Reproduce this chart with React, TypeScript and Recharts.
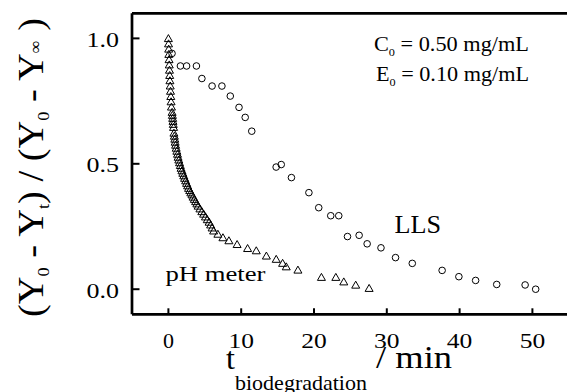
import React from "react";
import { ScatterChart, Scatter, XAxis, YAxis, ReferenceLine } from "recharts";

// pH meter (triangles): time in min, normalized signal
const phTime = [
  0, 0.02, 0.04, 0.06, 0.09, 0.12, 0.15, 0.18, 0.21, 0.25, 0.29, 0.33, 0.37, 0.42,
  0.51, 0.55, 0.59, 0.63, 0.67, 0.71, 0.76, 0.82, 0.88, 0.93, 0.99, 1.07, 1.16, 1.25,
  1.33, 1.43, 1.53, 1.64, 1.74, 1.86, 1.98, 2.11, 2.23, 2.37, 2.5, 2.64, 2.77, 2.93,
  3.08, 3.24, 3.39, 3.56, 3.74, 3.91, 4.08, 4.33, 4.59, 4.84, 5.09, 5.34, 5.59, 5.8,
  6.0, 6.21, 6.8, 7.49, 8.31, 9.44, 10.88, 12.07, 13.46, 14.81, 15.69, 16.19, 17.79,
  21.02, 23.0, 24.09, 25.73, 27.57,
];
const phValue = [
  1.0, 0.979, 0.958, 0.937, 0.916, 0.895, 0.874, 0.853, 0.832, 0.811, 0.79, 0.769, 0.748, 0.727,
  0.706, 0.694, 0.682, 0.67, 0.658, 0.646, 0.623, 0.611, 0.599, 0.587, 0.575, 0.563, 0.551, 0.539,
  0.527, 0.516, 0.505, 0.494, 0.483, 0.473, 0.463, 0.453, 0.443, 0.433, 0.423, 0.413, 0.403, 0.394,
  0.385, 0.377, 0.368, 0.359, 0.35, 0.341, 0.332, 0.321, 0.31, 0.3, 0.289, 0.278, 0.268, 0.257,
  0.245, 0.233, 0.22, 0.206, 0.194, 0.179, 0.163, 0.154, 0.133, 0.12, 0.104, 0.09, 0.077,
  0.048, 0.048, 0.03, 0.017, 0.004,
];

// LLS (circles)
const llsTime = [
  0.5, 1.65, 2.5, 3.85, 4.6, 6.0, 7.35, 8.5, 9.7, 10.55, 11.45, 14.8, 15.5, 16.9, 19.3,
  20.65, 22.3, 23.4, 24.6, 26.2, 27.3, 29.2, 31.2, 33.5, 37.6, 39.9, 42.2, 45.1, 49.0, 50.45,
];
const llsValue = [
  0.94, 0.89, 0.89, 0.89, 0.84, 0.81, 0.81, 0.77, 0.725, 0.685, 0.63, 0.487, 0.497, 0.445, 0.385,
  0.325, 0.293, 0.293, 0.21, 0.215, 0.181, 0.165, 0.126, 0.103, 0.075, 0.05, 0.035, 0.019, 0.017, 0.0,
];

const xTicks = [0, 10, 20, 30, 40, 50];
const yTicks = [0, 0.5, 1.0];

const phData = phTime.map((t, i) => ({ t, y: phValue[i] }));
const llsData = llsTime.map((t, i) => ({ t, y: llsValue[i] }));

const serif = { fontFamily: "Liberation Serif" };

const Triangle = (props: any) => {
  const { cx, cy } = props;
  return (
    <polygon
      points={`${cx},${cy - 3.8} ${cx + 4},${cy + 3.2} ${cx - 4},${cy + 3.2}`}
      fill="none"
      stroke="#000"
      strokeWidth={1}
    />
  );
};

const Circle = (props: any) => {
  const { cx, cy } = props;
  return <circle cx={cx} cy={cy} r={3.3} fill="none" stroke="#000" strokeWidth={1} />;
};

const YTick = ({ x, y, payload }: any) => (
  <g>
    <line x1={x} x2={x + 7.5} y1={y} y2={y} stroke="#000" strokeWidth={2} />
    <text
      x={x - 13}
      y={y + 8.4}
      textAnchor="end"
      fontSize={22}
      style={serif}
      fill="#000"
      textLength={32.5}
      lengthAdjust="spacingAndGlyphs"
    >
      {payload.value.toFixed(1)}
    </text>
  </g>
);

const XTick = ({ x, y, payload }: any) => {
  const label = String(payload.value);
  return (
    <g>
      <line x1={x} x2={x} y1={y} y2={y - 6} stroke="#000" strokeWidth={2} />
      <text
        x={x}
        y={y + 34}
        textAnchor="middle"
        fontSize={22}
        style={serif}
        fill="#000"
        textLength={label.length > 1 ? 25.5 : 11}
        lengthAdjust="spacingAndGlyphs"
      >
        {label}
      </text>
    </g>
  );
};

export default function App() {
  return (
    <div
      style={{
        position: "absolute",
        left: 0,
        top: 0,
        width: 567,
        height: 392,
        overflow: "hidden",
        background: "#fff",
      }}
    >
      <ScatterChart
        width={580}
        height={392}
        margin={{ top: 13.3, right: 11.2, bottom: 0, left: 0 }}
      >
        <XAxis
          dataKey="t"
          type="number"
          domain={[-5, 55]}
          ticks={xTicks}
          height={77.7}
          tickSize={0}
          tickMargin={0}
          tickLine={false}
          tick={<XTick />}
          axisLine={{ stroke: "#000", strokeWidth: 2.7 }}
          allowDataOverflow
        />
        <YAxis
          dataKey="y"
          type="number"
          domain={[-0.1, 1.1]}
          ticks={yTicks}
          width={132}
          tickSize={0}
          tickMargin={0}
          tickLine={false}
          tick={<YTick />}
          axisLine={{ stroke: "#000", strokeWidth: 2.7 }}
          allowDataOverflow
        />
        <ReferenceLine y={1.1} stroke="#000" strokeWidth={2.7} />
        <Scatter data={llsData} shape={<Circle />} isAnimationActive={false} />
        <Scatter data={phData} shape={<Triangle />} isAnimationActive={false} />
      </ScatterChart>
      <svg
        width={567}
        height={392}
        style={{ position: "absolute", left: 0, top: 0, pointerEvents: "none", ...serif }}
        fill="#000"
      >
        <text
          transform="translate(43,167.5) rotate(-90)"
          textAnchor="middle"
          fontSize={36}
          style={serif}
          textLength={299}
          lengthAdjust="spacingAndGlyphs"
        >
          (Y<tspan fontSize={17} dy={6}>0</tspan>
          <tspan dy={-6}> - Y</tspan>
          <tspan fontSize={17} dy={6}>t</tspan>
          <tspan dy={-6}>) / (Y</tspan>
          <tspan fontSize={17} dy={6}>0</tspan>
          <tspan dy={-6}> - Y</tspan>
          <tspan fontSize={17} dy={-2}>∞</tspan>
          <tspan dy={2}> )</tspan>
        </text>

        <text x={226} y={369} fontSize={32} style={serif}>t</text>
        <text x={235} y={390} fontSize={22} style={serif} textLength={132} lengthAdjust="spacingAndGlyphs">
          biodegradation
        </text>
        <text x={376} y={368} fontSize={32} style={serif} textLength={76} lengthAdjust="spacingAndGlyphs">
          / min
        </text>

        <text x={374} y={51} fontSize={20} style={serif} textLength={155} lengthAdjust="spacingAndGlyphs">
          C<tspan fontSize={11} dy={5}>0</tspan>
          <tspan dy={-5}> = 0.50 mg/mL</tspan>
        </text>
        <text x={376} y={81} fontSize={20} style={serif} textLength={153} lengthAdjust="spacingAndGlyphs">
          E<tspan fontSize={11} dy={5}>0</tspan>
          <tspan dy={-5}> = 0.10 mg/mL</tspan>
        </text>

        <text x={394.5} y={232.5} fontSize={25} style={serif} textLength={46.5} lengthAdjust="spacingAndGlyphs">
          LLS
        </text>
        <text x={165.5} y={281} fontSize={22} style={serif} textLength={100} lengthAdjust="spacingAndGlyphs">
          pH meter
        </text>
      </svg>
    </div>
  );
}
